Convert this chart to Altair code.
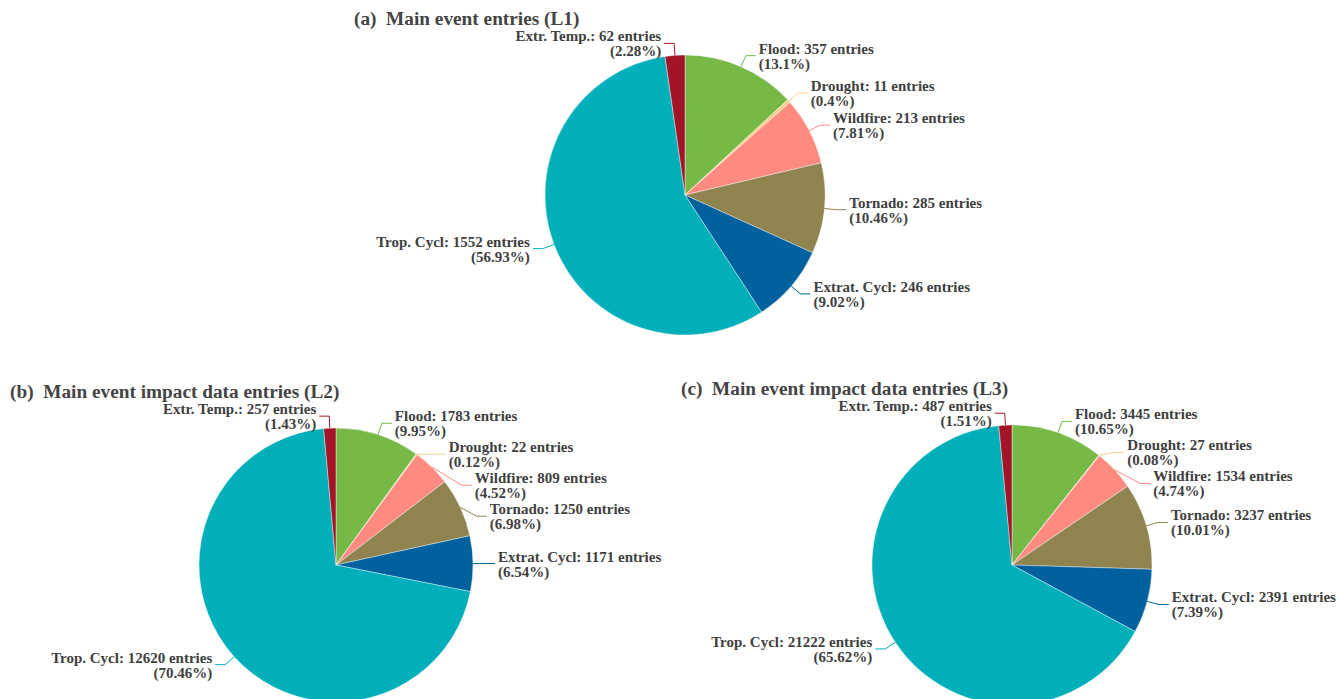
import altair as alt
import pandas as pd

# ---- data ----
categories = ["Flood", "Drought", "Wildfire", "Tornado", "Extrat. Cycl", "Trop. Cycl", "Extr. Temp."]
l1_values = [357, 11, 213, 285, 246, 1552, 62]
l2_values = [1783, 22, 809, 1250, 1171, 12620, 257]
l3_values = [3445, 27, 1534, 3237, 2391, 21222, 487]
l1_pct = ["13.1%", "0.4%", "7.81%", "10.46%", "9.02%", "56.93%", "2.28%"]
l2_pct = ["9.95%", "0.12%", "4.52%", "6.98%", "6.54%", "70.46%", "1.43%"]
l3_pct = ["10.65%", "0.08%", "4.74%", "10.01%", "7.39%", "65.62%", "1.51%"]
panel_ids = ["a", "b", "c"]
panel_titles = ["(a)\u00a0 Main event entries (L1)",
                "(b)\u00a0 Main event impact data entries (L2)",
                "(c)\u00a0 Main event impact data entries (L3)"]

# ---- styling / layout (not data) ----
colors = ["#76b947", "#f9d08b", "#ff8a80", "#8f844f", "#00619e", "#00afba", "#a21426"]
layout = {"a": (685, 195, 140), "b": (336, 565, 137), "c": (1012, 565, 140)}
title_pos = {"a": (354, 19), "b": (10, 392), "c": (681, 389)}
TEXT = "#404040"
FONT = "Liberation Serif"

rows = []
for pid, vals, pcts in zip(panel_ids, [l1_values, l2_values, l3_values], [l1_pct, l2_pct, l3_pct]):
    for i, (c, v, p) in enumerate(zip(categories, vals, pcts)):
        rows.append({"panel": pid, "cat": c, "value": v, "pct": p, "order": i})
df = pd.DataFrame(rows)
tdf = pd.DataFrame({"panel": panel_ids, "title": panel_titles})


def sel(key, idx, d):
    return (f"datum.panel==='a' ? {d['a'][idx]} : "
            f"datum.panel==='b' ? {d['b'][idx]} : {d['c'][idx]}")


GAP = 31
base = (
    alt.Chart(df)
    .transform_joinaggregate(total="sum(value)", groupby=["panel"])
    .transform_window(cum="sum(value)", sort=[alt.SortField("order")],
                      groupby=["panel"], frame=[None, 0])
    .transform_calculate(
        f0="(datum.cum - datum.value) / datum.total",
        f1="datum.cum / datum.total",
    )
    .transform_calculate(ang="(datum.f0 + datum.f1) * PI")
    .transform_calculate(cx=sel("cx", 0, layout), cy=sel("cy", 1, layout), r=sel("r", 2, layout))
    .transform_calculate(
        ex="datum.cx + datum.r * sin(datum.ang)",
        ey="datum.cy - datum.r * cos(datum.ang)",
        ny="datum.cy - (datum.r + 12) * cos(datum.ang)",
        side="sin(datum.ang) >= 0 ? 'R' : 'L'",
    )
    .transform_window(rk="row_number()", sort=[alt.SortField("order")],
                      groupby=["panel", "side"])
    .transform_calculate(
        t=f"datum.side === 'R' ? datum.ny - {GAP} * datum.rk : -datum.ny - {GAP} * datum.rk"
    )
    .transform_window(m="max(t)", sort=[alt.SortField("order")],
                      groupby=["panel", "side"], frame=[None, 0])
    .transform_calculate(
        ly=f"datum.side === 'R' ? datum.m + {GAP} * datum.rk : -(datum.m + {GAP} * datum.rk)"
    )
    .transform_calculate(
        dx="sqrt(max(pow(datum.r + 12, 2) - pow(datum.ly - datum.cy, 2), 0))"
    )
    .transform_calculate(
        bx="datum.side === 'R' ? datum.cx + datum.dx : datum.cx - datum.dx",
    )
    .transform_calculate(
        endx="datum.side === 'R' ? datum.bx + 10 : datum.bx - 10",
        tx="datum.side === 'R' ? datum.bx + 13 : datum.bx - 13",
        label="datum.cat + ': ' + datum.value + ' entries\\n(' + datum.pct + ')'",
    )
)

color = alt.Color("cat:N", scale=alt.Scale(domain=categories, range=colors), legend=None)

arcs = base.mark_arc(stroke="white", strokeWidth=0.4).encode(
    x=alt.X("cx:Q", scale=None, axis=None),
    y=alt.Y("cy:Q", scale=None, axis=None),
    theta=alt.Theta("f0:Q", scale=alt.Scale(domain=[0, 1], range=[0, 6.283185307])),
    theta2="f1:Q",
    radius=alt.Radius("r:Q", scale=None),
    color=color,
)

line1 = base.mark_rule(strokeWidth=1).encode(
    x=alt.X("ex:Q", scale=None), y=alt.Y("ey:Q", scale=None),
    x2="bx:Q", y2="ly:Q", color=color,
)
line2 = base.mark_rule(strokeWidth=1).encode(
    x=alt.X("bx:Q", scale=None), y=alt.Y("ly:Q", scale=None),
    x2="endx:Q", y2="ly:Q", color=color,
)

txt_kw = dict(font=FONT, fontSize=15, fontWeight="bold", color=TEXT,
              baseline="middle", lineBreak="\n", lineHeight=15, dy=-7)
text_r = base.transform_filter("datum.side === 'R'").mark_text(align="left", **txt_kw).encode(
    x=alt.X("tx:Q", scale=None), y=alt.Y("ly:Q", scale=None), text="label:N")
text_l = base.transform_filter("datum.side === 'L'").mark_text(align="right", **txt_kw).encode(
    x=alt.X("tx:Q", scale=None), y=alt.Y("ly:Q", scale=None), text="label:N")

titles = (
    alt.Chart(tdf)
    .transform_calculate(tx=sel("tx", 0, title_pos), ty=sel("ty", 1, title_pos))
    .mark_text(align="left", baseline="middle", font=FONT, fontSize=19.3,
               fontWeight="bold", color="#444444")
    .encode(x=alt.X("tx:Q", scale=None), y=alt.Y("ty:Q", scale=None), text="title:N")
)

chart = (
    alt.layer(arcs, line1, line2, text_r, text_l, titles)
    .properties(width=1336, height=699, padding=0, autosize=alt.AutoSizeParams(type="none"),
                background="white")
    .configure_view(stroke=None)
)

chart.save("out.html", embed_options={"renderer": "svg", "actions": False})
